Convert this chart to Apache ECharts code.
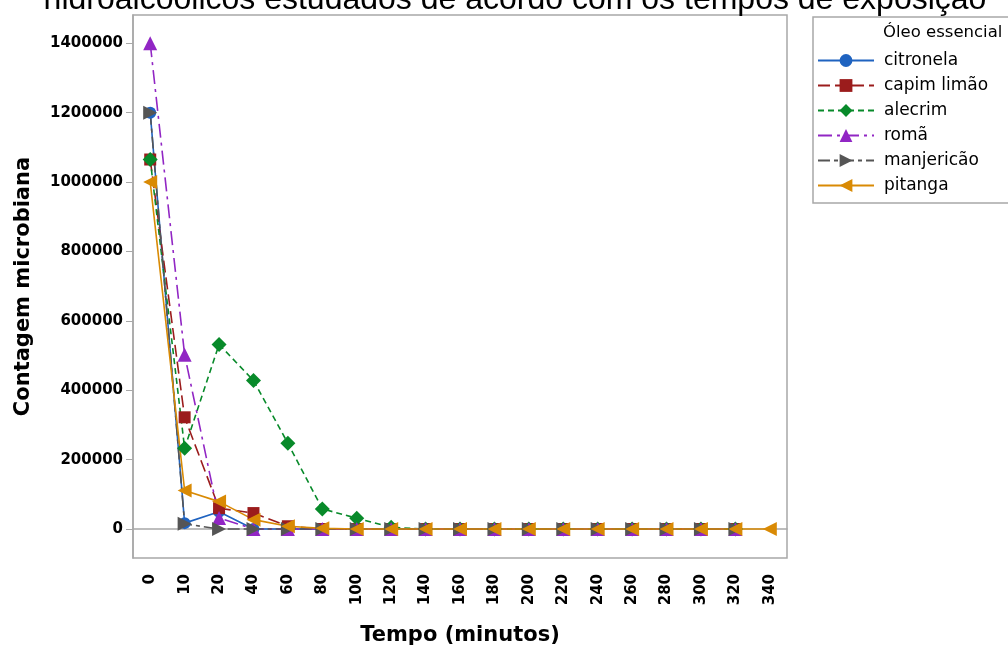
<!DOCTYPE html>
<html><head><meta charset="utf-8">
<script src="https://cdn.jsdelivr.net/npm/echarts@6/dist/echarts.min.js"></script>
<style>html,body{margin:0;padding:0;background:#fff}#c{width:1008px;height:650px}</style>
</head><body><div id="c"></div>
<script>
const titleText = 'hidroalcoólicos estudados de acordo com os tempos de exposição';
const legendTitle = 'Óleo essencial';
const xName = 'Tempo (minutos)';
const yName = 'Contagem microbiana';
const tempos = ['0','10','20','40','60','80','100','120','140','160','180','200','220','240','260','280','300','320','340'];
const yTicks = [0,200000,400000,600000,800000,1000000,1200000,1400000];
const citronela  = [1200000,17000,50000,0,0,0,0,0,0,0,0,0,0,0,0,0,0,0];
const capimLimao = [1065000,322000,60000,46000,8000,0,0,0,0,0,0,0,0,0,0,0,0,0];
const alecrim    = [1065000,233000,532000,428000,247000,58000,31000,5000,0,0,0,0,0,0,0,0,0,0];
const roma       = [1400000,502000,32000,0,0,0,0,0,0,0,0,0,0,0,0,0,0,0];
const manjericao = [1200000,15000,0,0,0,0,0,0,0,0,0,0,0,0,0,0,0,0];
const pitanga    = [1000000,111000,79000,27000,8000,2000,0,0,0,0,0,0,0,0,0,0,0,0,0];

const triRight = 'path://M0,0 L10,5 L0,10 Z';
const triLeft = 'path://M10,0 L0,5 L10,10 Z';

function mk(name, data, color, dash, symbol, size) {
  return {
    name, type: 'line', data, symbol, symbolSize: size,
    itemStyle: {color},
    lineStyle: {color, width: 1.6, type: dash},
    emphasis: {disabled: true}, animation: false
  };
}

const chart = echarts.init(document.getElementById('c'));
chart.setOption({
  animation: false,
  grid: {left: 133, right: 221, top: 15, bottom: 92, outerBoundsMode: 'none', containLabel: false, show: true, borderColor: '#a8a8a8', borderWidth: 1.5, backgroundColor: '#fff'},
  graphic: [
    {type: 'text', style: {text: titleText, x: 515, y: -16, font: '32px "Liberation Sans", Arial', fill: '#000', align: 'center', verticalAlign: 'top'}},
    {type: 'rect', shape: {x: 813, y: 17, width: 200, height: 186}, style: {fill: 'none', stroke: '#a8a8a8', lineWidth: 1.5}, z: 0},
    {type: 'text', style: {text: legendTitle, x: 883, y: 33, font: '16.5px "DejaVu Sans"', fill: '#000', verticalAlign: 'middle'}}
  ],
  legend: {
    orient: 'vertical', left: 817, top: 52, padding: 0, itemWidth: 56, itemHeight: 16, itemGap: 8,
    textStyle: {fontFamily: 'DejaVu Sans', fontSize: 17, color: '#000', lineHeight: 16, padding: [0,0,0,5]},
    data: ['citronela','capim limão','alecrim','romã','manjericão','pitanga']
  },
  xAxis: {
    type: 'category', data: tempos, boundaryGap: true,
    name: xName, nameLocation: 'middle', nameGap: 67,
    nameTextStyle: {fontFamily: 'DejaVu Sans', fontWeight: 'bold', fontSize: 21, color: '#000'},
    axisLine: {lineStyle: {color: '#a8a8a8', width: 1.5}},
    axisTick: {alignWithLabel: true, length: 6, lineStyle: {color: '#a8a8a8'}},
    axisLabel: {rotate: 90, margin: 16, interval: 0, fontFamily: 'DejaVu Sans', fontWeight: 'bold', fontSize: 15, color: '#000'},
    splitLine: {show: false}
  },
  yAxis: {
    type: 'value', min: -83500, max: 1481500,
    name: yName, nameLocation: 'middle', nameGap: 99,
    nameTextStyle: {fontFamily: 'DejaVu Sans', fontWeight: 'bold', fontSize: 21, color: '#000'},
    axisLine: {show: true, lineStyle: {color: '#a8a8a8', width: 1.5}},
    axisTick: {show: true, length: 7, customValues: yTicks, lineStyle: {color: '#a8a8a8'}},
    axisLabel: {customValues: yTicks, formatter: v => String(v), margin: 10, fontFamily: 'DejaVu Sans', fontWeight: 'bold', fontSize: 15, color: '#000'},
    splitLine: {show: false}
  },
  series: [
    mk('citronela', citronela, '#1f63c0', 'solid', 'circle', 12),
    mk('capim limão', capimLimao, '#9b1c1c', [12,5], 'rect', 12),
    mk('alecrim', alecrim, '#088a2a', [6,4], 'diamond', 15),
    mk('romã', roma, '#9126c4', [14,5,3,5], 'triangle', 14),
    mk('manjericão', manjericao, '#555555', [12,4,4,4], triRight, 14),
    mk('pitanga', pitanga, '#d98a04', 'solid', triLeft, 14)
  ]
});
</script></body></html>
